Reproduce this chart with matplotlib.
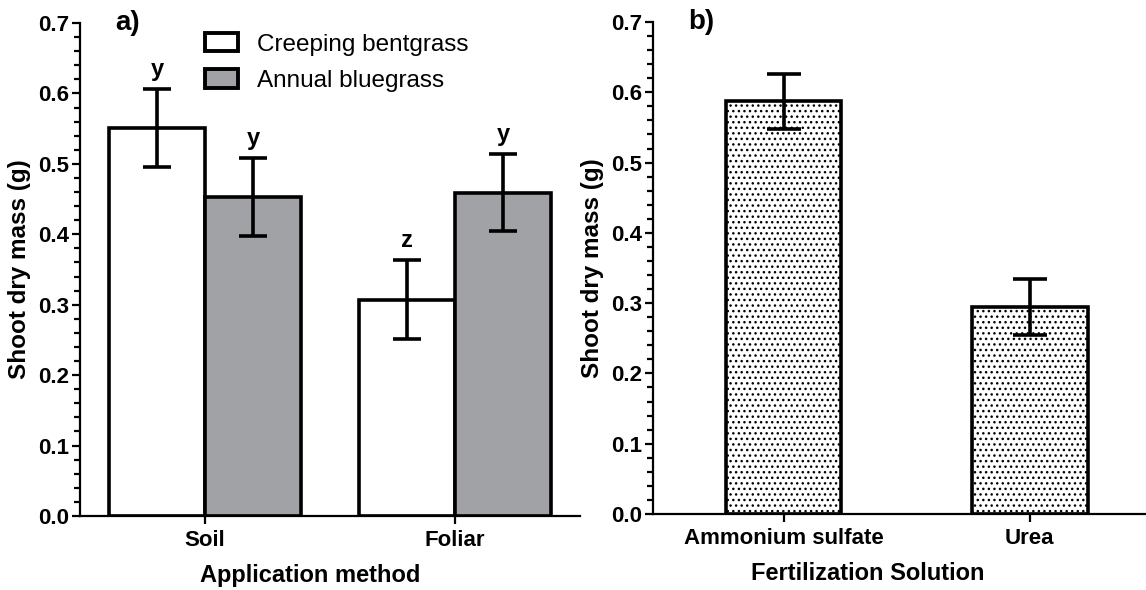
import matplotlib.pyplot as plt
import numpy as np

# panel a) data
methods = ["Soil", "Foliar"]
creeping = [0.551, 0.307]
creeping_err = [0.055, 0.056]
annual = [0.453, 0.459]
annual_err = [0.055, 0.055]
creeping_letters = ["y", "z"]
annual_letters = ["y", "y"]

# panel b) data
solutions = ["Ammonium sulfate", "Urea"]
solution_mass = [0.587, 0.294]
solution_err = [0.039, 0.040]

plt.rcParams['font.family'] = ['Liberation Sans', 'DejaVu Sans']
plt.rcParams['hatch.linewidth'] = 1.0

GRAY = '#a1a2a6'
EDGE_LW = 2.6
TICK_FS = 16
LABEL_FS = 17

fig = plt.figure(figsize=(11.46, 5.90), dpi=100)
ax1 = fig.add_axes([80/1146, 74/590, 500/1146, 493/590])
ax2 = fig.add_axes([653/1146, 76/590, 500/1146, 492/590])


def style_axis(ax):
    for s in ['top', 'right']:
        ax.spines[s].set_visible(False)
    for s in ['left', 'bottom']:
        ax.spines[s].set_linewidth(1.6)
    ax.set_ylim(0, 0.7)
    ax.set_yticks(np.arange(0, 0.71, 0.1))
    ax.set_yticks(np.arange(0, 0.701, 0.02), minor=True)
    ax.set_yticklabels([f"{v:.1f}" for v in np.arange(0, 0.71, 0.1)])
    ax.tick_params(axis='y', which='major', length=6, width=1.6, pad=2,
                   labelsize=TICK_FS)
    ax.tick_params(axis='y', which='minor', length=4.5, width=1.6)
    ax.tick_params(axis='x', length=6, width=1.6, pad=4, labelsize=TICK_FS)
    for lab in ax.get_xticklabels() + ax.get_yticklabels():
        lab.set_fontweight('bold')
    ax.set_ylabel("Shoot dry mass (g)", fontsize=17.5, fontweight='bold')


# ---- a) ----
x = np.arange(len(methods))
w = 0.385
ax1.bar(x - w/2, creeping, w, color='white', edgecolor='black',
        linewidth=EDGE_LW, label="Creeping bentgrass", zorder=2)
ax1.bar(x + w/2, annual, w, color=GRAY, edgecolor='black',
        linewidth=EDGE_LW, label="Annual bluegrass", zorder=2)
ax1.errorbar(x - w/2, creeping, yerr=creeping_err, fmt='none', ecolor='black',
             elinewidth=2.6, capsize=10, capthick=2.6, zorder=3)
ax1.errorbar(x + w/2, annual, yerr=annual_err, fmt='none', ecolor='black',
             elinewidth=2.6, capsize=10, capthick=2.6, zorder=3)
for i in range(len(methods)):
    ax1.text(x[i] - w/2, creeping[i] + creeping_err[i] + 0.012, creeping_letters[i],
             ha='center', va='bottom', fontsize=LABEL_FS, fontweight='bold')
    ax1.text(x[i] + w/2, annual[i] + annual_err[i] + 0.012, annual_letters[i],
             ha='center', va='bottom', fontsize=LABEL_FS, fontweight='bold')
ax1.set_xlim(-0.5, 1.5)
ax1.set_xticks(x)
ax1.set_xticklabels(methods)
style_axis(ax1)
ax1.set_xlabel("Application method", fontsize=LABEL_FS, fontweight='bold')
ax1.yaxis.set_label_coords(-0.098, 0.5)
ax1.xaxis.set_label_coords(0.46, -0.098)
ax1.text(0.07, 1.0, "a)", transform=ax1.transAxes, fontsize=20,
         fontweight='bold', va='center', ha='left')
leg = ax1.legend(loc='upper left', bbox_to_anchor=(0.25, 0.98), frameon=False,
                 fontsize=17.5, handlelength=1.35, handleheight=0.8,
                 handletextpad=0.8, labelspacing=0.55, borderaxespad=0,
                 borderpad=0)
for p in leg.get_patches():
    p.set_linewidth(2.8)

# ---- b) ----
xb = np.arange(len(solutions))
ax2.bar(xb, solution_mass, 0.47, color='white', edgecolor='black',
        linewidth=EDGE_LW, hatch='...', zorder=2)
ax2.errorbar(xb, solution_mass, yerr=solution_err, fmt='none', ecolor='black',
             elinewidth=2.6, capsize=12, capthick=2.6, zorder=3)
ax2.set_xlim(-0.53, 1.5)
ax2.set_xticks(xb)
ax2.set_xticklabels(solutions)
style_axis(ax2)
ax2.set_xlabel("Fertilization Solution", fontsize=LABEL_FS, fontweight='bold')
ax2.yaxis.set_label_coords(-0.099, 0.5)
ax2.xaxis.set_label_coords(0.43, -0.098)
ax2.text(0.07, 1.0, "b)", transform=ax2.transAxes, fontsize=20,
         fontweight='bold', va='center', ha='left')

fig.savefig("out.png", dpi=100)
